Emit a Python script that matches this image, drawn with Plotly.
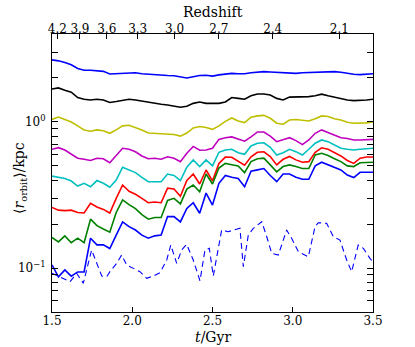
import math
import plotly.graph_objects as go

# Sampling times (Gyr)
time = [1.50, 1.54, 1.58, 1.62, 1.66, 1.70, 1.74, 1.78, 1.82, 1.86, 1.90, 1.94, 1.98,
        2.02, 2.06, 2.10, 2.14, 2.18, 2.22, 2.26, 2.30, 2.34, 2.38, 2.42, 2.46,
        2.50, 2.54, 2.58, 2.62, 2.66, 2.70, 2.74, 2.78, 2.82, 2.86, 2.90, 2.94, 2.98,
        3.02, 3.06, 3.10, 3.14, 3.18, 3.22, 3.26, 3.30, 3.34, 3.38, 3.42, 3.46, 3.50]

blue_top = [2.66, 2.62, 2.55, 2.46, 2.32, 2.26, 2.26, 2.24, 2.22, 2.13, 2.14, 2.17, 2.17,
            2.17, 2.14, 2.12, 2.10, 2.09, 2.08, 2.07, 2.04, 2.00, 2.04, 2.08, 2.09,
            2.06, 2.10, 2.13, 2.15, 2.14, 2.14, 2.17, 2.19, 2.21, 2.20, 2.19, 2.17, 2.15,
            2.15, 2.17, 2.18, 2.19, 2.21, 2.22, 2.21, 2.19, 2.15, 2.12, 2.11, 2.12, 2.14]

black = [1.68, 1.71, 1.65, 1.60, 1.47, 1.43, 1.415, 1.43, 1.415, 1.36, 1.38, 1.40, 1.43,
         1.415, 1.39, 1.36, 1.34, 1.32, 1.307, 1.29, 1.26, 1.28, 1.34, 1.37, 1.34,
         1.34, 1.34, 1.37, 1.47, 1.45, 1.43, 1.51, 1.555, 1.555, 1.53, 1.45, 1.415, 1.48,
         1.48, 1.49, 1.49, 1.51, 1.55, 1.51, 1.48, 1.44, 1.415, 1.40, 1.40, 1.415, 1.43]

yellow = [1.04, 1.08, 1.04, 1.0, 0.94, 0.882, 0.863, 0.882, 0.87, 0.836, 0.882, 0.94, 0.95,
          0.92, 0.882, 0.84, 0.834, 0.83, 0.826, 0.82, 0.80, 0.84, 0.91, 0.93, 0.915,
          0.89, 0.94, 1.01, 1.065, 1.016, 0.99, 1.077, 1.10, 1.11, 1.06, 0.98, 0.965, 1.03,
          1.04, 1.03, 1.016, 1.05, 1.10, 1.09, 1.05, 1.03, 0.996, 0.98, 0.98, 0.985, 1.0]

magenta = [0.65, 0.667, 0.643, 0.604, 0.564, 0.556, 0.545, 0.564, 0.56, 0.526, 0.585, 0.66, 0.65,
           0.625, 0.585, 0.56, 0.564, 0.556, 0.578, 0.564, 0.535, 0.61, 0.68, 0.64, 0.643,
           0.66, 0.76, 0.78, 0.79, 0.76, 0.738, 0.79, 0.854, 0.854, 0.80, 0.733, 0.753, 0.78,
           0.745, 0.70, 0.753, 0.836, 0.882, 0.845, 0.815, 0.78, 0.77, 0.753, 0.753, 0.757, 0.76]

cyan = [0.426, 0.42, 0.41, 0.394, 0.364, 0.38, 0.36, 0.397, 0.38, 0.357, 0.40, 0.49, 0.469,
        0.45, 0.418, 0.39, 0.39, 0.39, 0.44, 0.43, 0.397, 0.49, 0.549, 0.495, 0.549,
        0.50, 0.62, 0.643, 0.65, 0.616, 0.60, 0.685, 0.715, 0.72, 0.67, 0.594, 0.616, 0.65,
        0.626, 0.594, 0.65, 0.715, 0.753, 0.733, 0.696, 0.66, 0.65, 0.643, 0.65, 0.655, 0.66]

red = [0.26, 0.249, 0.247, 0.249, 0.24, 0.238, 0.277, 0.262, 0.252, 0.238, 0.30, 0.37, 0.335,
       0.32, 0.30, 0.28, 0.283, 0.28, 0.352, 0.348, 0.31, 0.397, 0.44, 0.376, 0.469,
       0.395, 0.52, 0.575, 0.573, 0.54, 0.505, 0.578, 0.62, 0.625, 0.58, 0.508, 0.555, 0.58,
       0.55, 0.53, 0.535, 0.62, 0.665, 0.65, 0.615, 0.585, 0.545, 0.52, 0.565, 0.575, 0.575]

green = [0.162, 0.151, 0.166, 0.149, 0.16, 0.149, 0.216, 0.195, 0.185, 0.176, 0.24, 0.293, 0.272,
         0.255, 0.232, 0.216, 0.222, 0.222, 0.29, 0.30, 0.275, 0.347, 0.37, 0.333, 0.44,
         0.376, 0.484, 0.52, 0.51, 0.50, 0.45, 0.535, 0.56, 0.565, 0.508, 0.455, 0.495, 0.508,
         0.495, 0.48, 0.48, 0.594, 0.61, 0.59, 0.56, 0.535, 0.50, 0.495, 0.526, 0.53, 0.53]

blue_low = [0.105, 0.087, 0.097, 0.088, 0.094, 0.094, 0.16, 0.144, 0.144, 0.136, 0.168, 0.207, 0.192,
            0.182, 0.168, 0.16, 0.166, 0.168, 0.225, 0.225, 0.207, 0.256, 0.28, 0.237, 0.326,
            0.27, 0.38, 0.43, 0.418, 0.41, 0.36, 0.46, 0.47, 0.48, 0.43, 0.39, 0.44, 0.44,
            0.418, 0.405, 0.405, 0.50, 0.53, 0.508, 0.49, 0.469, 0.433, 0.416, 0.452, 0.452, 0.452]

# Dashed series (its own sampling)
time_dashed = [1.500, 1.550, 1.612, 1.654, 1.695, 1.726, 1.747, 1.779, 1.810, 1.841, 1.861,
               1.903, 1.934, 1.965, 2.007, 2.048, 2.090, 2.131, 2.173, 2.215, 2.240, 2.277,
               2.308, 2.339, 2.380, 2.422, 2.453, 2.480, 2.505, 2.557, 2.598, 2.630, 2.671,
               2.692, 2.723, 2.754, 2.807, 2.838, 2.869, 2.910, 2.962, 2.993, 3.035, 3.097,
               3.139, 3.159, 3.211, 3.253, 3.294, 3.336, 3.367, 3.408, 3.440, 3.481, 3.500]
blue_dashed = [0.092, 0.0872, 0.0806, 0.092, 0.0786, 0.1077, 0.1328, 0.1077, 0.0882, 0.0872, 0.0944,
               0.1077, 0.1228, 0.105, 0.0995, 0.0944, 0.085, 0.0882, 0.0929, 0.1135, 0.1438, 0.1077,
               0.1328, 0.1453, 0.1135, 0.0818, 0.1328, 0.1364, 0.0882, 0.182, 0.1774, 0.182, 0.187,
               0.102, 0.168, 0.187, 0.2075, 0.1638, 0.126, 0.1228, 0.182, 0.1597, 0.1293, 0.1195,
               0.192, 0.2043, 0.2023, 0.1638, 0.1555, 0.1135, 0.0944, 0.1438, 0.1364, 0.1165, 0.11]

# Axis ticks and labels
x_tick_vals = [1.5, 2.0, 2.5, 3.0, 3.5]
x_tick_text = ["1.5", "2.0", "2.5", "3.0", "3.5"]
redshift_tick_time = [1.533, 1.674, 1.841, 2.034, 2.264, 2.540, 2.875, 3.290]
redshift_tick_text = ["4.2", "3.9", "3.6", "3.3", "3.0", "2.7", "2.4", "2.1"]
y_tick_vals = [0.1, 1.0]
y_tick_text = ["10<sup>−1</sup>", "10<sup>0</sup>"]
y_minor_vals = [0.05, 0.06, 0.07, 0.08, 0.09, 0.2, 0.3, 0.4, 0.5, 0.6, 0.7, 0.8, 0.9, 2, 3, 4]
y_limits = [0.05, 4.0]
x_title = "<i>t</i>/Gyr"
top_title = "Redshift"
y_title = "⟨<i>r</i><sub>orbit</sub>⟩/kpc"

series = [
    (blue_top, "#0000ff"),
    (black, "#000000"),
    (yellow, "#bfbf00"),
    (magenta, "#bf00bf"),
    (cyan, "#00bfbf"),
    (red, "#ff0000"),
    (green, "#008000"),
    (blue_low, "#0000ff"),
]

fig = go.Figure()
for vals, col in series:
    fig.add_trace(go.Scatter(x=time, y=vals, mode="lines",
                             line=dict(color=col, width=1.6), showlegend=False,
                             hoverinfo="skip"))
fig.add_trace(go.Scatter(x=time_dashed, y=blue_dashed, mode="lines",
                         line=dict(color="#0000ff", width=1.1, dash="6px,4px"),
                         showlegend=False, hoverinfo="skip"))
# invisible trace to activate the top (redshift) axis
fig.add_trace(go.Scatter(x=[time[0], time[-1]], y=[1, 1], xaxis="x2", mode="lines",
                         line=dict(width=0), opacity=0, showlegend=False, hoverinfo="skip"))

font_family = "DejaVu Serif"
fig.update_layout(
    width=415, height=347,
    margin=dict(l=52, r=42, t=34, b=35, autoexpand=False),
    paper_bgcolor="white", plot_bgcolor="white",
    font=dict(family=font_family, size=12, color="black"),
    xaxis=dict(range=[1.5, 3.5], tickmode="array", tickvals=x_tick_vals, ticktext=x_tick_text,
               ticks="inside", ticklen=5, tickcolor="black", showline=True, linecolor="black",
               linewidth=1, showgrid=False, zeroline=False, ticklabelstandoff=-2),
    xaxis2=dict(overlaying="x", side="top", range=[1.5, 3.5], tickmode="array",
                tickvals=redshift_tick_time, ticktext=redshift_tick_text,
                ticks="inside", ticklen=5, tickcolor="black", showline=True, linecolor="black",
                linewidth=1, showgrid=False, zeroline=False, ticklabelstandoff=-5),
    yaxis=dict(type="log", range=[math.log10(y_limits[0]), math.log10(y_limits[1])],
               tickmode="array", tickvals=y_tick_vals, ticktext=y_tick_text,
               ticks="inside", ticklen=6, tickcolor="black", mirror="allticks",
               showline=True, linecolor="black", linewidth=1, showgrid=False, zeroline=False,
               ticklabelstandoff=3,
               minor=dict(ticks="inside", ticklen=3, tickcolor="black", tickmode="array",
                          tickvals=y_minor_vals, showgrid=False)),
    annotations=[
        dict(text=x_title, xref="paper", yref="paper", x=0.5, y=-0.09, showarrow=False,
             xanchor="center", yanchor="middle", font=dict(size=14)),
        dict(text=top_title, xref="paper", yref="paper", x=0.5, y=1.078, showarrow=False,
             xanchor="center", yanchor="middle", font=dict(size=14), borderpad=0),
        dict(text=y_title, xref="paper", yref="paper", x=-0.1, y=0.482, showarrow=False,
             xanchor="center", yanchor="middle", textangle=-90, font=dict(size=14)),
    ],
)

fig.write_html("out.html", config={"displayModeBar": False},
               post_script="document.body.style.margin='0';document.body.style.overflow='hidden';")
